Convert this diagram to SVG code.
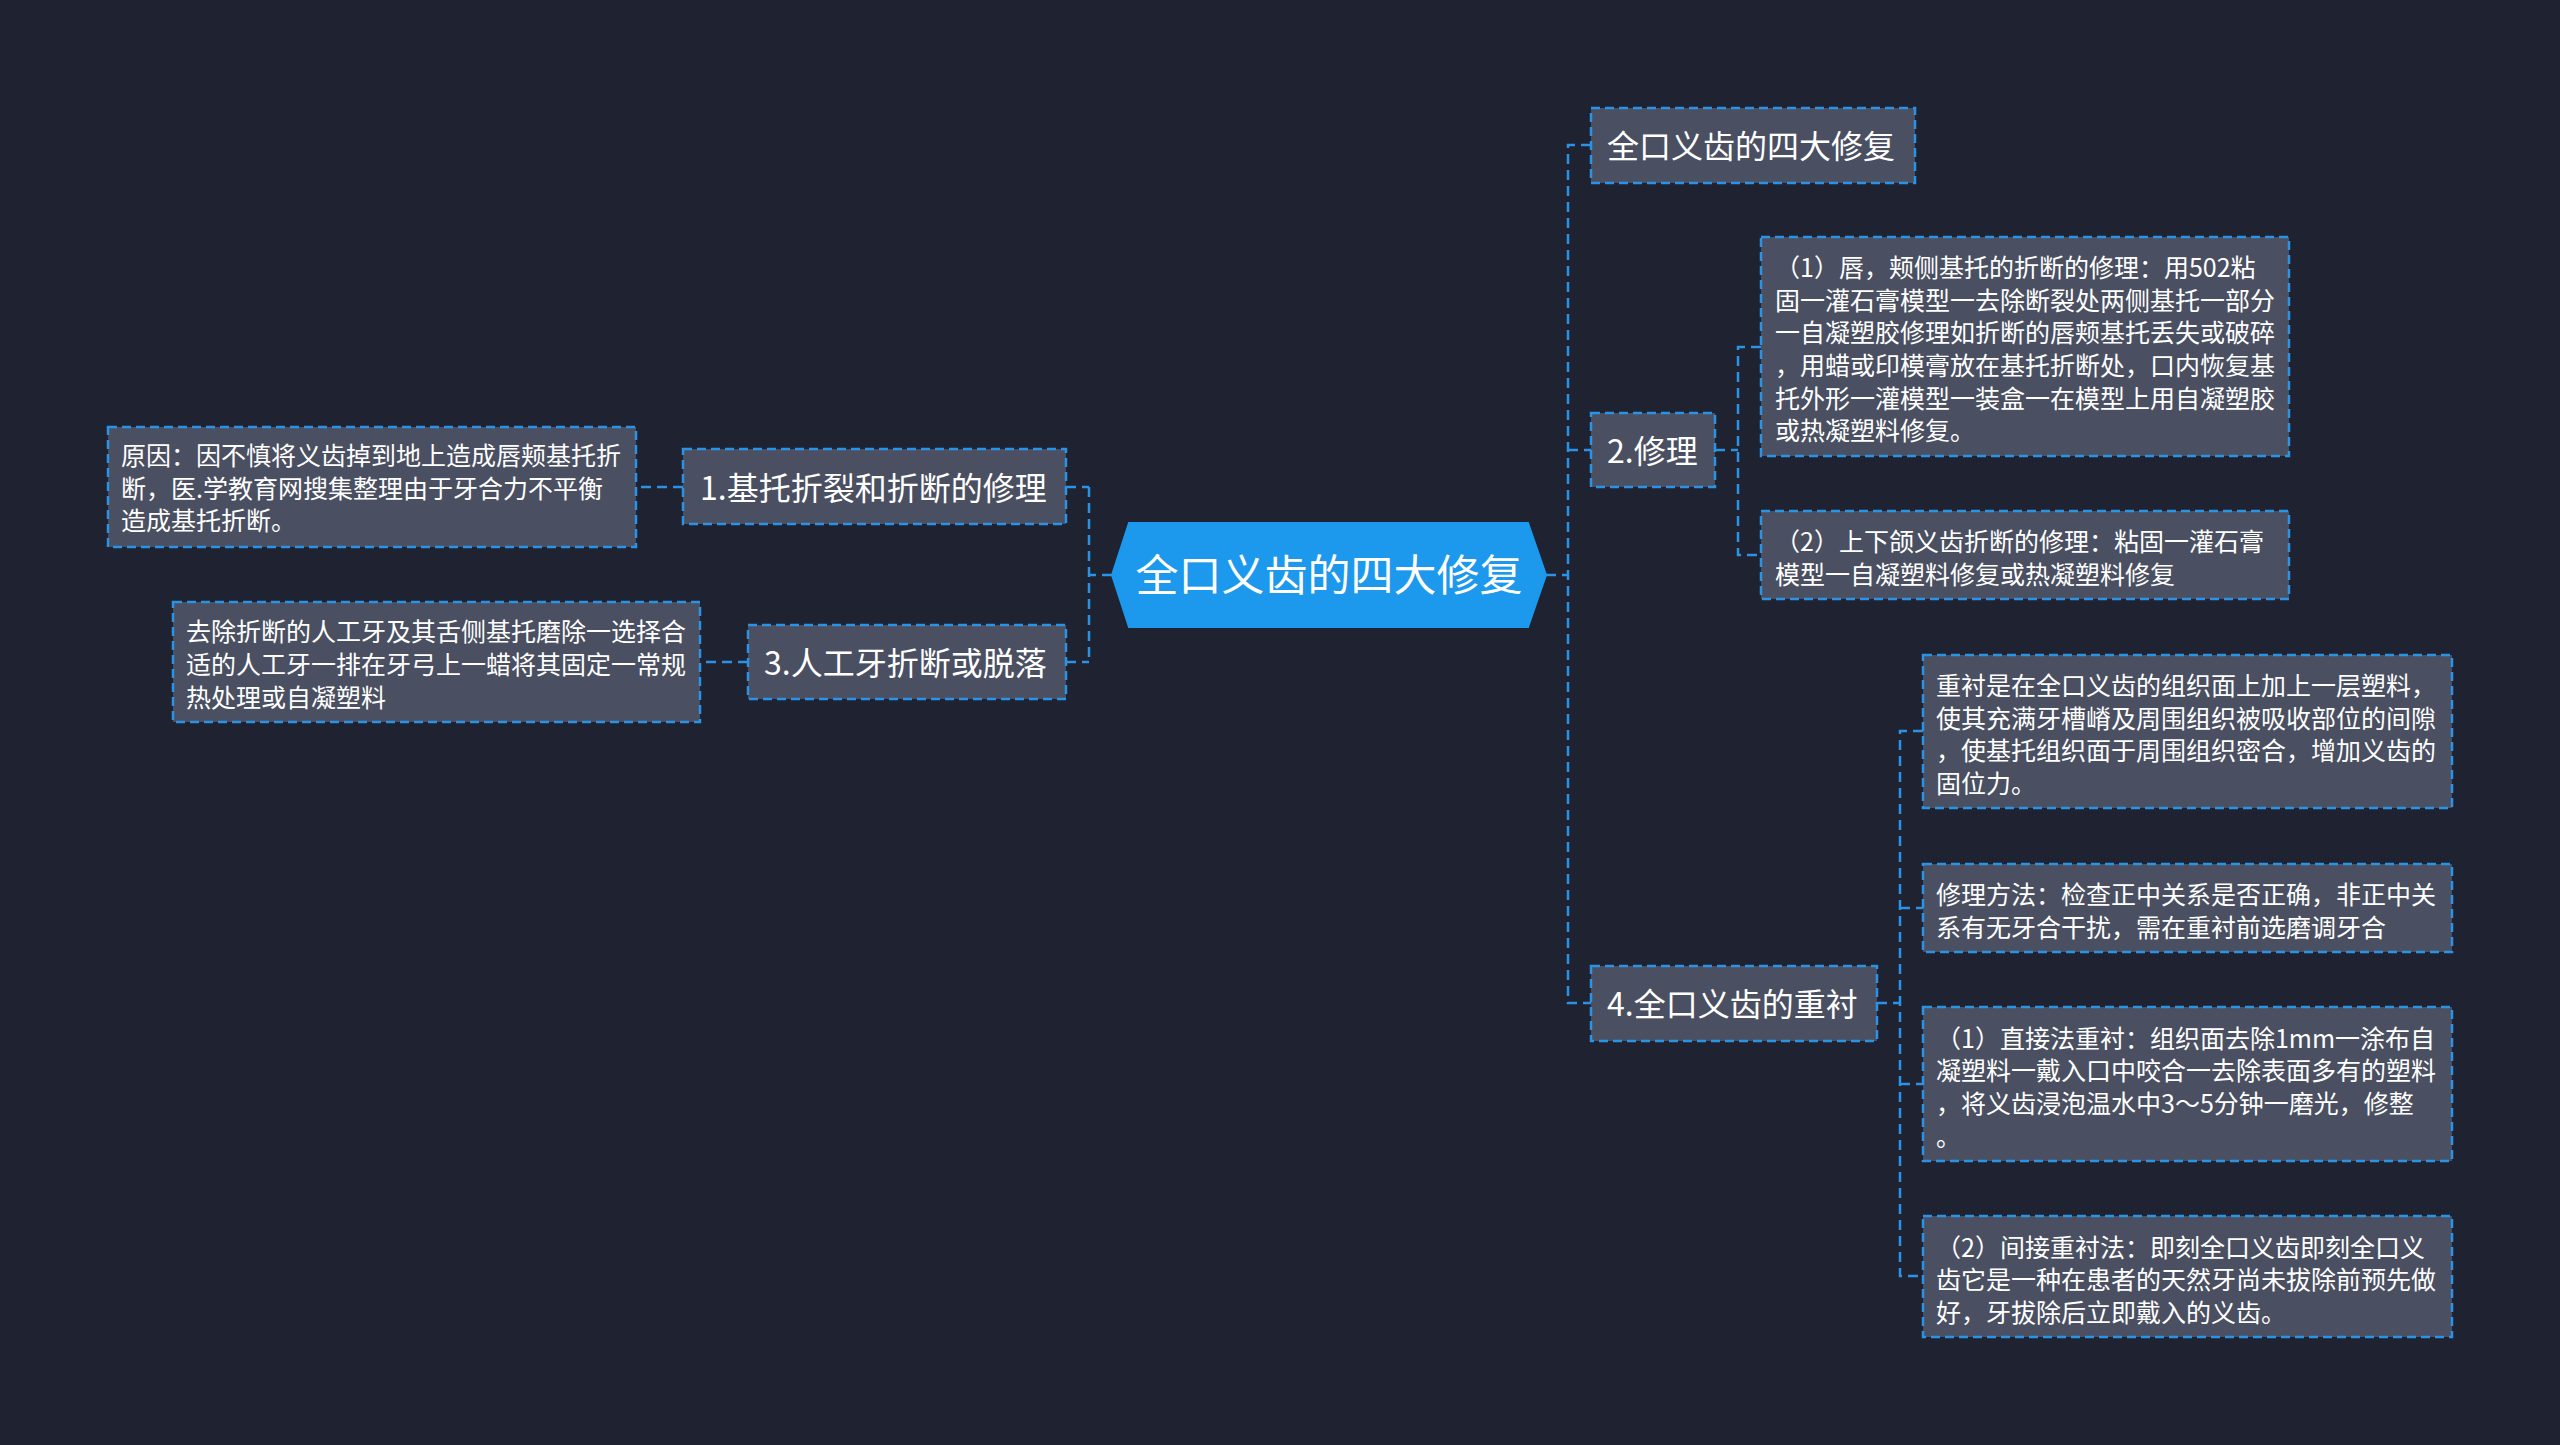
<svg xmlns="http://www.w3.org/2000/svg" width="2560" height="1445" viewBox="0 0 2560 1445">
<style>
.bg{fill:#1f2230}
.box{fill:#4a5061;stroke:#2b93e6;stroke-width:2.5;stroke-dasharray:9 5}
.ct{fill:#1c98ec;stroke:#1c98ec;stroke-width:2}
.ln{fill:none;stroke:#2b93e6;stroke-width:2.5;stroke-dasharray:10 6}
.t{font-family:"Noto Sans CJK SC","Noto Sans",sans-serif;fill:#ffffff}
.big{font-size:43px}
.mid{font-size:32px}
.sm{font-size:25px}
</style>
<rect class="bg" x="0" y="0" width="2560" height="1445"/>
<g id="connectors">
<path class="ln" d="M1112 575 H1089 M1089 487 V662 M1066 487 H1089 M1066 662 H1089"/>
<path class="ln" d="M683 487 H636 M748 662 H700"/>
<path class="ln" d="M1546 575 H1568 M1591 145 H1568 V1003 H1591 M1568 450 H1591"/>
<path class="ln" d="M1715 450 H1738 M1761 347 H1738 V555 H1761"/>
<path class="ln" d="M1877 1003 H1900 M1923 731 H1900 V1276 H1923 M1900 908 H1923 M1900 1084 H1923"/>
</g>
<g id="center">
<polygon class="ct" points="1112,575 1129,523 1528,523 1546,575 1528,627 1129,627"/>
<text class="t big" x="1329" y="591" text-anchor="middle">全口义齿的四大修复</text>
</g>
<g id="n1">
<rect class="box" x="683" y="449" width="383" height="75"/>
<text class="t mid" x="700" y="500">1.基托折裂和折断的修理</text>
</g>
<g id="n1a">
<rect class="box" x="108" y="427" width="528" height="120"/>
<text class="t sm"><tspan x="121" y="465">原因：因不慎将义齿掉到地上造成唇颊基托折</tspan><tspan x="121" y="498">断，医.学教育网搜集整理由于牙合力不平衡</tspan><tspan x="121" y="530">造成基托折断。</tspan></text>
</g>
<g id="n3">
<rect class="box" x="748" y="625" width="318" height="74"/>
<text class="t mid" x="764" y="675">3.人工牙折断或脱落</text>
</g>
<g id="n3a">
<rect class="box" x="173" y="602" width="527" height="120"/>
<text class="t sm"><tspan x="186" y="641">去除折断的人工牙及其舌侧基托磨除一选择合</tspan><tspan x="186" y="674">适的人工牙一排在牙弓上一蜡将其固定一常规</tspan><tspan x="186" y="707">热处理或自凝塑料</tspan></text>
</g>
<g id="r0">
<rect class="box" x="1591" y="108" width="324" height="75"/>
<text class="t mid" x="1607" y="158">全口义齿的四大修复</text>
</g>
<g id="r2">
<rect class="box" x="1591" y="413" width="124" height="74"/>
<text class="t mid" x="1607" y="463">2.修理</text>
</g>
<g id="r2a">
<rect class="box" x="1761" y="237" width="528" height="219"/>
<text class="t sm"><tspan x="1775" y="277">（1）唇，颊侧基托的折断的修理：用502粘</tspan><tspan x="1775" y="310">固一灌石膏模型一去除断裂处两侧基托一部分</tspan><tspan x="1775" y="342">一自凝塑胶修理如折断的唇颊基托丢失或破碎</tspan><tspan x="1775" y="375">，用蜡或印模膏放在基托折断处，口内恢复基</tspan><tspan x="1775" y="408">托外形一灌模型一装盒一在模型上用自凝塑胶</tspan><tspan x="1775" y="440">或热凝塑料修复。</tspan></text>
</g>
<g id="r2b">
<rect class="box" x="1761" y="511" width="528" height="88"/>
<text class="t sm"><tspan x="1775" y="551">（2）上下颌义齿折断的修理：粘固一灌石膏</tspan><tspan x="1775" y="584">模型一自凝塑料修复或热凝塑料修复</tspan></text>
</g>
<g id="r4">
<rect class="box" x="1591" y="966" width="286" height="75"/>
<text class="t mid" x="1607" y="1016">4.全口义齿的重衬</text>
</g>
<g id="r4a">
<rect class="box" x="1923" y="655" width="529" height="153"/>
<text class="t sm"><tspan x="1936" y="695">重衬是在全口义齿的组织面上加上一层塑料，</tspan><tspan x="1936" y="728">使其充满牙槽嵴及周围组织被吸收部位的间隙</tspan><tspan x="1936" y="760">，使基托组织面于周围组织密合，增加义齿的</tspan><tspan x="1936" y="793">固位力。</tspan></text>
</g>
<g id="r4b">
<rect class="box" x="1923" y="864" width="529" height="88"/>
<text class="t sm"><tspan x="1936" y="904">修理方法：检查正中关系是否正确，非正中关</tspan><tspan x="1936" y="937">系有无牙合干扰，需在重衬前选磨调牙合</tspan></text>
</g>
<g id="r4c">
<rect class="box" x="1923" y="1007" width="529" height="154"/>
<text class="t sm"><tspan x="1936" y="1048">（1）直接法重衬：组织面去除1mm一涂布自</tspan><tspan x="1936" y="1080">凝塑料一戴入口中咬合一去除表面多有的塑料</tspan><tspan x="1936" y="1113">，将义齿浸泡温水中3～5分钟一磨光，修整</tspan><tspan x="1936" y="1146">。</tspan></text>
</g>
<g id="r4d">
<rect class="box" x="1923" y="1216" width="529" height="121"/>
<text class="t sm"><tspan x="1936" y="1257">（2）间接重衬法：即刻全口义齿即刻全口义</tspan><tspan x="1936" y="1289">齿它是一种在患者的天然牙尚未拔除前预先做</tspan><tspan x="1936" y="1322">好，牙拔除后立即戴入的义齿。</tspan></text>
</g>
</svg>
